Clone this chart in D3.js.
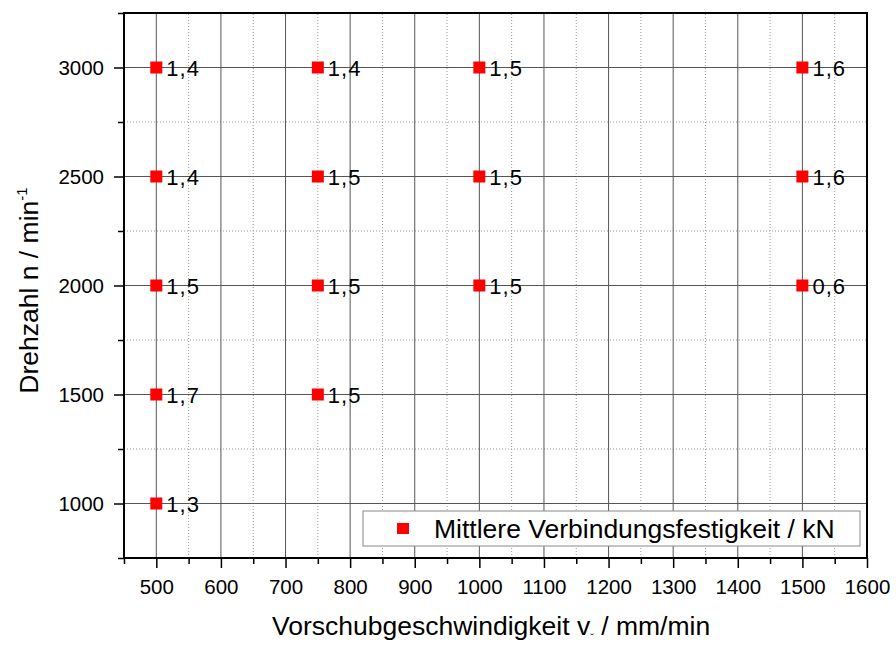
<!DOCTYPE html>
<html>
<head>
<meta charset="utf-8">
<script src="https://cdn.jsdelivr.net/npm/d3@7"></script>
<style>
  body { margin: 0; background: #fff; }
  svg { font-family: "Liberation Sans", Arial, sans-serif; }
</style>
</head>
<body>
<svg id="chart" width="896" height="645"></svg>
<script>
// data
var feedRates = [500, 500, 500, 500, 500, 750, 750, 750, 750, 1000, 1000, 1000, 1500, 1500, 1500];
var speeds    = [3000, 2500, 2000, 1500, 1000, 3000, 2500, 2000, 1500, 3000, 2500, 2000, 3000, 2500, 2000];
var strengths = ["1,4", "1,4", "1,5", "1,7", "1,3", "1,4", "1,5", "1,5", "1,5", "1,5", "1,5", "1,5", "1,6", "1,6", "0,6"];
var xTicks = [500, 600, 700, 800, 900, 1000, 1100, 1200, 1300, 1400, 1500, 1600];
var yTicks = [1000, 1500, 2000, 2500, 3000];
var legendLabel = "Mittlere Verbindungsfestigkeit / kN";

var svg = d3.select('#chart');
var margin = {top: 13, right: 29, bottom: 87, left: 124};
var W = 896, H = 645;

var x = d3.scaleLinear().domain([450, 1600]).range([margin.left, W - margin.right]);
var y = d3.scaleLinear().domain([750, 3250]).range([H - margin.bottom, margin.top]);

var xMinor = d3.range(450, 1601, 50).filter(d => d % 100 !== 0);
var yMinor = d3.range(750, 3251, 250).filter(d => d % 500 !== 0);

var grid = svg.append('g');
// minor grid, dotted
grid.selectAll('.vminor').data(xMinor)
    .join('line')
    .attr('x1', d => x(d)).attr('x2', d => x(d))
    .attr('y1', y(750)).attr('y2', y(3250))
    .attr('stroke', '#999').attr('stroke-width', 1).attr('stroke-dasharray', '1,2');
grid.selectAll('.hminor').data(yMinor)
    .join('line')
    .attr('y1', d => y(d)).attr('y2', d => y(d))
    .attr('x1', x(450)).attr('x2', x(1600))
    .attr('stroke', '#999').attr('stroke-width', 1).attr('stroke-dasharray', '1,2');
// major grid
grid.selectAll('.vmajor').data(xTicks.filter(d => d < 1600))
    .join('line')
    .attr('x1', d => x(d)).attr('x2', d => x(d))
    .attr('y1', y(750)).attr('y2', y(3250))
    .attr('stroke', '#555').attr('stroke-width', 1);
grid.selectAll('.hmajor').data(yTicks)
    .join('line')
    .attr('y1', d => y(d)).attr('y2', d => y(d))
    .attr('x1', x(450)).attr('x2', x(1600))
    .attr('stroke', '#555').attr('stroke-width', 1);

// frame
svg.append('rect')
    .attr('x', x(450)).attr('y', y(3250))
    .attr('width', x(1600) - x(450)).attr('height', y(750) - y(3250))
    .attr('fill', 'none').attr('stroke', '#000').attr('stroke-width', 2);

// axes
svg.append('g')
    .attr('transform', `translate(0,${y(750)})`)
    .call(d3.axisBottom(x).tickValues(xTicks).tickSize(10).tickPadding(11).tickFormat(d3.format('d')));
svg.append('g')
    .attr('transform', `translate(0,${y(750)})`)
    .call(d3.axisBottom(x).tickValues(xMinor).tickSize(6).tickFormat(''));
svg.append('g')
    .attr('transform', `translate(${x(450)},0)`)
    .call(d3.axisLeft(y).tickValues(yTicks).tickSize(10).tickPadding(10).tickFormat(d3.format('d')));
svg.append('g')
    .attr('transform', `translate(${x(450)},0)`)
    .call(d3.axisLeft(y).tickValues(yMinor).tickSize(6).tickFormat(''));

svg.selectAll('.domain').remove();
svg.selectAll('.tick line').attr('stroke', '#000').attr('stroke-width', 1.5);
svg.selectAll('.tick text')
    .attr('font-size', 20.5)
    .attr('font-family', '"Liberation Sans", Arial, sans-serif')
    .attr('fill', '#000');

// points
var pts = feedRates.map((f, i) => ({f: f, n: speeds[i], s: strengths[i]}));
svg.append('g').selectAll('rect')
    .data(pts)
    .join('rect')
    .attr('x', d => x(d.f) - 6).attr('y', d => y(d.n) - 6)
    .attr('width', 12).attr('height', 12)
    .attr('fill', '#ff0000');

svg.append('g').selectAll('text')
    .data(pts)
    .join('text')
    .attr('x', d => x(d.f) + 10)
    .attr('y', d => y(d.n) + 8)
    .attr('font-size', 22)
    .attr('letter-spacing', 1)
    .text(d => d.s);

// legend
var lg = svg.append('g');
lg.append('rect')
    .attr('x', 363).attr('y', 511).attr('width', 497).attr('height', 35)
    .attr('fill', '#fff').attr('stroke', '#888').attr('stroke-width', 1);
lg.append('rect')
    .attr('x', 397).attr('y', 523).attr('width', 12).attr('height', 11)
    .attr('fill', '#ff0000');
lg.append('text')
    .attr('x', 434).attr('y', 538)
    .attr('font-size', 26.5)
    .text(legendLabel);

// axis titles
var xt = svg.append('text')
    .attr('x', 272).attr('y', 635)
    .attr('font-size', 26.5);
xt.append('tspan').text('Vorschubgeschwindigkeit v');
xt.append('tspan').attr('font-size', 11).attr('dy', 7).text('\u02C7');
xt.append('tspan').attr('dy', -7).text('  / mm/min');

var yt = svg.append('text')
    .attr('transform', `translate(38,${(y(750) + y(3250)) / 2 + 5}) rotate(-90)`)
    .attr('text-anchor', 'middle')
    .attr('font-size', 26.5);
yt.append('tspan').text('Drehzahl n / min');
yt.append('tspan').attr('font-size', 15).attr('dy', -11).text('-1');
</script>
</body>
</html>
